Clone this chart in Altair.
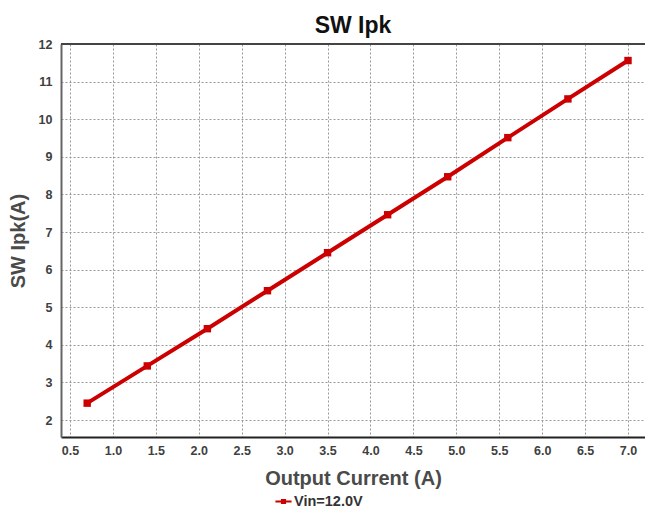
import altair as alt
import pandas as pd

current = [0.7, 1.4, 2.1, 2.8, 3.5, 4.2, 4.9, 5.6, 6.3, 7.0]
ipk = [2.45, 3.44, 4.43, 5.44, 6.45, 7.46, 8.47, 9.51, 10.54, 11.56]
series = ["Vin=12.0V"] * len(current)
x_ticks = [0.5, 1.0, 1.5, 2.0, 2.5, 3.0, 3.5, 4.0, 4.5, 5.0, 5.5, 6.0, 6.5, 7.0]
y_ticks = [2, 3, 4, 5, 6, 7, 8, 9, 10, 11, 12]

df = pd.DataFrame({"current": current, "ipk": ipk, "series": series})

font = "Liberation Sans"
red = "#CC0000"

legend_sym = "M-1,-0.12H1V0.12H-1Z M-0.32,-0.32H0.32V0.32H-0.32Z"

base = alt.Chart(df).encode(
    x=alt.X("current:Q",
            scale=alt.Scale(domain=[0.395, 7.198], nice=False, zero=False),
            axis=alt.Axis(values=x_ticks, format=".1f", title="Output Current (A)",
                          titleFontSize=20, titleColor="#4a4a4a", titleFont=font,
                          titleFontWeight="bold", titlePadding=12,
                          labelFont=font, labelFontSize=12.5, labelFontWeight="bold",
                          labelColor="#404040", labelPadding=7, ticks=False,
                          domainColor="#222", domainWidth=2,
                          grid=True, gridDash=[2, 2], gridColor="#999", gridWidth=1)),
    y=alt.Y("ipk:Q",
            scale=alt.Scale(domain=[1.55, 12], nice=False, zero=False),
            axis=alt.Axis(values=y_ticks, format="d", title="SW Ipk(A)",
                          titleFontSize=20, titleColor="#4a4a4a", titleFont=font,
                          titleFontWeight="bold", titlePadding=10,
                          labelFont=font, labelFontSize=12.5, labelFontWeight="bold",
                          labelColor="#404040", labelPadding=9, ticks=False,
                          domainColor="#666", domainWidth=2,
                          grid=True, gridDash=[2, 2], gridColor="#999", gridWidth=1)),
    color=alt.Color("series:N", scale=alt.Scale(range=[red]),
                    legend=alt.Legend(title=None, orient="none", legendX=214, legendY=449,
                                      symbolType=legend_sym, symbolSize=260,
                                      symbolFillColor=red, symbolStrokeWidth=0,
                                      labelFont=font, labelFontSize=14.5, labelFontWeight="bold",
                                      labelColor="#333", labelOffset=2)),
)

line = base.mark_line(strokeWidth=4)
pts = base.mark_square(size=55, opacity=1, filled=True)

top = alt.Chart(pd.DataFrame({"a": [0]})).mark_rule(color="#444", strokeWidth=2).encode(
    x=alt.value(0), x2=alt.value(584), y=alt.value(0))

chart = alt.layer(line, pts, top).properties(
    width=584, height=393,
    title=alt.TitleParams("SW Ipk", font=font, fontSize=23, fontWeight="bold",
                          color="#111", offset=0),
    autosize=alt.AutoSizeParams(type="none"),
    padding={"left": 53, "top": 36, "right": 0, "bottom": 72},
).configure_view(stroke=None)

chart.save("out.html", embed_options={"renderer": "svg", "actions": False})
